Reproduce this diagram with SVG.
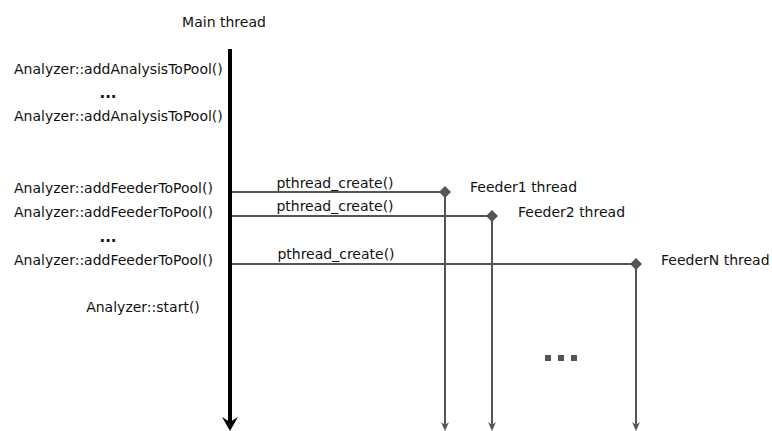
<svg xmlns="http://www.w3.org/2000/svg" width="772" height="431" viewBox="0 0 772 431">
<style>
text{font-family:"DejaVu Sans",sans-serif;font-size:14px;fill:#111}
.c{text-anchor:middle}
.g{stroke:#555;stroke-width:2;fill:none}
.dot{font-weight:bold;font-size:15px}
</style>
<defs>
<marker id="big" markerUnits="userSpaceOnUse" markerWidth="16" markerHeight="14" refX="8" refY="8" viewBox="0 0 16 14">
<path d="M0,0 L8,5 L16,0 L8,14 Z" fill="#000"/>
</marker>
<marker id="sm" markerUnits="userSpaceOnUse" markerWidth="8" markerHeight="9" refX="4" refY="6" viewBox="0 0 8 9">
<path d="M0,0 L4,3 L8,0 L4,9 Z" fill="#555"/>
</marker>
<marker id="dia" markerUnits="userSpaceOnUse" markerWidth="12" markerHeight="12" refX="6" refY="6" viewBox="0 0 12 12">
<path d="M6,0 L12,6 L6,12 L0,6 Z" fill="#555"/>
</marker>
</defs>
<g id="main-thread">
<text x="224" y="27" class="c">Main thread</text>
</g>
<g id="calls">
<text x="14" y="74">Analyzer::addAnalysisToPool()</text>
<text x="108" y="98" class="c dot">...</text>
<text x="14" y="121">Analyzer::addAnalysisToPool()</text>
<text x="14" y="193">Analyzer::addFeederToPool()</text>
<text x="14" y="217">Analyzer::addFeederToPool()</text>
<text x="108" y="242" class="c dot">...</text>
<text x="14" y="265">Analyzer::addFeederToPool()</text>
<text x="143" y="312" class="c">Analyzer::start()</text>
</g>
<g id="feeder1">
<text x="470" y="192">Feeder1 thread</text>
</g>
<g id="feeder2">
<text x="518" y="217">Feeder2 thread</text>
</g>
<g id="feederN">
<text x="661" y="265">FeederN thread</text>
</g>
<g id="ellipsis">
<rect x="545" y="355" width="6" height="6" fill="#555"/>
<rect x="558" y="355" width="6" height="6" fill="#555"/>
<rect x="571" y="355" width="6" height="6" fill="#555"/>
</g>
<g id="connectors">
<line x1="230" y1="49" x2="230" y2="425" stroke="#000" stroke-width="4" marker-end="url(#big)"/>
<line x1="232" y1="192" x2="445" y2="192" class="g" marker-end="url(#dia)"/>
<line x1="232" y1="216" x2="492" y2="216" class="g" marker-end="url(#dia)"/>
<line x1="232" y1="264" x2="636" y2="264" class="g" marker-end="url(#dia)"/>
<line x1="445" y1="192" x2="445" y2="428" class="g" marker-end="url(#sm)"/>
<line x1="492" y1="216" x2="492" y2="428" class="g" marker-end="url(#sm)"/>
<line x1="636" y1="264" x2="636" y2="428" class="g" marker-end="url(#sm)"/>
<text x="335" y="188" class="c">pthread_create()</text>
<text x="335" y="211" class="c">pthread_create()</text>
<text x="336" y="259" class="c">pthread_create()</text>
</g>
</svg>
